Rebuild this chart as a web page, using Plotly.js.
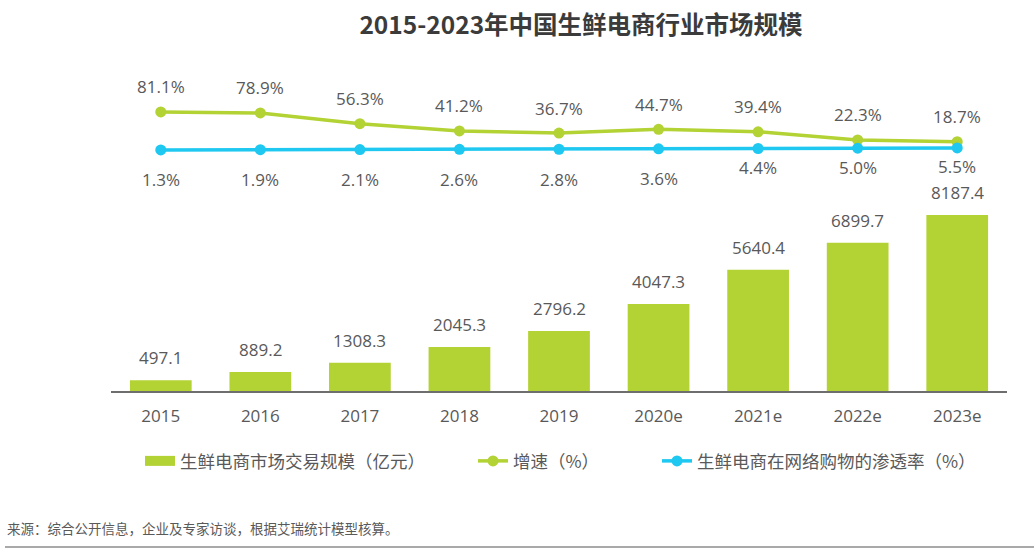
<!DOCTYPE html>
<html>
<head>
<meta charset="utf-8">
<script src="https://cdn.plot.ly/plotly-3.0.1.min.js"></script>
<style>
  html, body { margin: 0; padding: 0; background: #fff; }
  #chart { width: 1034px; height: 549px; }
</style>
</head>
<body>
<div id="chart"></div>
<script>
var years = ['2015', '2016', '2017', '2018', '2019', '2020e', '2021e', '2022e', '2023e']
var marketSize = [497.1, 889.2, 1308.3, 2045.3, 2796.2, 4047.3, 5640.4, 6899.7, 8187.4]
var growthRate = [81.1, 78.9, 56.3, 41.2, 36.7, 44.7, 39.4, 22.3, 18.7]
var penetration = [1.3, 1.9, 2.1, 2.6, 2.8, 3.6, 4.4, 5.0, 5.5]

var GREEN = '#b3d234'
var BLUE = '#1ec8f0'
var TEXT = '#595959'
var NUMFONT = '"Open Sans", "Noto Sans CJK SC", sans-serif'
var CJKFONT = '"Noto Sans CJK SC", "Open Sans", sans-serif'

var W = 1034, H = 549
var ML = 111, MR = 27
var PW = W - ML - MR

// pixel -> paper helpers (plot area spans full height)
function px(x) { return (x - ML) / PW }
function py(y) { return (H - y) / H }

var CHART_DIV = document.getElementById('chart')

var traces = [{
    type: 'bar',
    name: '生鲜电商市场交易规模（亿元）',
    x: years,
    y: marketSize,
    width: 0.62,
    marker: { color: GREEN },
    showlegend: false,
    hoverinfo: 'skip'
}, {
    // legend-only entry so the swatch is a wide block like the original
    type: 'scatter',
    mode: 'lines',
    name: '生鲜电商市场交易规模（亿元）',
    x: [null],
    y: [null],
    line: { color: GREEN, width: 11 },
    legend: 'legend',
    hoverinfo: 'skip'
}, {
    type: 'scatter',
    mode: 'lines+markers',
    name: '增速（%）',
    x: years,
    y: growthRate,
    yaxis: 'y2',
    line: { color: GREEN, width: 3.5 },
    marker: { color: GREEN, size: 11 },
    legend: 'legend2',
    hoverinfo: 'skip'
}, {
    type: 'scatter',
    mode: 'lines+markers',
    name: '生鲜电商在网络购物的渗透率（%）',
    x: years,
    y: penetration,
    yaxis: 'y2',
    line: { color: BLUE, width: 3.5 },
    marker: { color: BLUE, size: 11 },
    legend: 'legend3',
    hoverinfo: 'skip'
}]

var annotations = []

// bar value labels
marketSize.forEach(function(v, i) {
    annotations.push({
        x: i, y: v, xref: 'x', yref: 'y',
        text: v.toFixed(1), showarrow: false,
        yanchor: 'bottom', yshift: 9,
        font: { family: NUMFONT, size: 17, color: TEXT }
    })
})

// growth labels above the points
growthRate.forEach(function(v, i) {
    annotations.push({
        x: i, y: v, xref: 'x', yref: 'y2',
        text: v.toFixed(1) + '%', showarrow: false,
        yanchor: 'middle', yshift: 25,
        font: { family: NUMFONT, size: 17, color: TEXT }
    })
})

// penetration labels below the points
penetration.forEach(function(v, i) {
    annotations.push({
        x: i, y: v, xref: 'x', yref: 'y2',
        text: v.toFixed(1) + '%', showarrow: false,
        yanchor: 'middle', yshift: i < 6 ? -30 : -19,
        font: { family: NUMFONT, size: 17, color: TEXT }
    })
})

annotations.push({
    xref: 'paper', yref: 'paper', x: px(5), y: py(528),
    xanchor: 'left', yanchor: 'middle', showarrow: false,
    text: '来源：综合公开信息，企业及专家访谈，根据艾瑞统计模型核算。',
    font: { family: CJKFONT, size: 13.5, color: TEXT }
})

function legendAt(xText) {
    return {
        orientation: 'h',
        x: px(xText - 42), xanchor: 'left',
        y: py(461), yanchor: 'middle',
        font: { family: CJKFONT, size: 17.5, color: TEXT },
        itemwidth: 30,
        bgcolor: 'rgba(0,0,0,0)'
    }
}

var layout = {
    width: W,
    height: H,
    margin: { l: ML, r: MR, t: 0, b: 0 },
    paper_bgcolor: '#ffffff',
    plot_bgcolor: '#ffffff',
    title: {
        text: '<b>2015-2023年中国生鲜电商行业市场规模</b>',
        x: 581 / W, xanchor: 'center',
        y: 1 - 25 / H, yanchor: 'middle',
        font: { family: CJKFONT, size: 24.5, color: '#3b3b3b' }
    },
    xaxis: {
        type: 'category',
        range: [-0.5, 8.5],
        showgrid: false,
        zeroline: false,
        showline: true,
        linecolor: '#6e6e6e',
        linewidth: 1.5,
        ticks: '',
        ticklabelstandoff: 9,
        tickfont: { family: NUMFONT, size: 17, color: TEXT },
        fixedrange: true
    },
    yaxis: {
        domain: [py(391), 1],
        range: [0, 18186],
        visible: false,
        showgrid: false,
        zeroline: false,
        fixedrange: true
    },
    yaxis2: {
        overlaying: 'y',
        anchor: 'x',
        range: [-504, 315.7],
        visible: false,
        showgrid: false,
        zeroline: false,
        fixedrange: true
    },
    showlegend: true,
    legend: legendAt(182),
    legend2: legendAt(515),
    legend3: legendAt(699),
    annotations: annotations,
    shapes: [{
        type: 'line', xref: 'paper', yref: 'paper',
        x0: px(5), x1: px(W), y0: py(547), y1: py(547),
        line: { color: '#8c8c8c', width: 1.5 }
    }],
    bargap: 0.38
}

Plotly.newPlot(CHART_DIV, traces, layout, { displayModeBar: false, staticPlot: true })
</script>
</body>
</html>
